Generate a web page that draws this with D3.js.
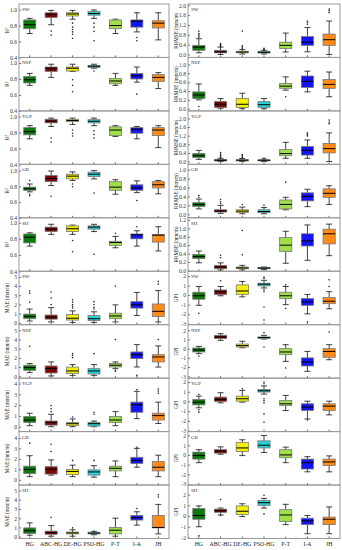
<!DOCTYPE html>
<html>
<head>
<meta charset="utf-8">
<script src="https://cdn.jsdelivr.net/npm/d3@7/dist/d3.min.js"></script>
<style>
  body { margin: 0; background: #fff; }
  svg { display: block; }
  text { font-family: "Liberation Serif", "DejaVu Serif", serif; }
</style>
</head>
<body>
<svg id="chart"></svg>
<script>
var categories = ["HG", "ABC-HG", "DE-HG", "PSO-HG", "P-T", "I-A", "JH"];
var colors = ["#0b7a0b", "#7a0606", "#f4f000", "#26d2d6", "#9fe04a", "#1414f0", "#ff8a17"];
var regions = ["SW", "NSP", "YGP", "GB", "SH"];

// each row: [low whisker, q1, median, q3, high whisker, outliers]
var r2SW = [
  [0.70, 0.76, 0.81, 0.87, 0.89, []],
  [0.81, 0.90, 0.94, 0.96, 0.99, [0.73, 0.68]],
  [0.88, 0.92, 0.945, 0.96, 0.99, [0.83, 0.78, 0.75, 0.72, 0.69, 0.64]],
  [0.89, 0.93, 0.95, 0.975, 0.995, [0.83, 0.78, 0.725, 0.61]],
  [0.70, 0.76, 0.80, 0.87, 0.88, []],
  [0.72, 0.78, 0.855, 0.87, 0.96, [0.65, 0.61]],
  [0.62, 0.77, 0.83, 0.86, 0.96, []]
];
var r2NSP = [
  [0.72, 0.75, 0.79, 0.83, 0.87, []],
  [0.82, 0.895, 0.935, 0.95, 0.985, []],
  [0.895, 0.90, 0.935, 0.95, 0.985, [0.79, 0.72, 0.64]],
  [0.935, 0.945, 0.96, 0.97, 0.985, [0.90]],
  [0.72, 0.74, 0.775, 0.805, 0.87, []],
  [0.76, 0.80, 0.84, 0.87, 0.95, [0.61]],
  [0.68, 0.77, 0.82, 0.855, 0.88, []]
];
var r2YGP = [
  [0.72, 0.77, 0.81, 0.86, 0.885, []],
  [0.875, 0.92, 0.94, 0.965, 0.98, [0.73, 0.68]],
  [0.90, 0.935, 0.95, 0.965, 0.98, [0.83, 0.79, 0.755]],
  [0.885, 0.92, 0.94, 0.96, 0.98, [0.82, 0.775, 0.73]],
  [0.75, 0.76, 0.83, 0.87, 0.885, []],
  [0.72, 0.79, 0.84, 0.86, 0.875, []],
  [0.61, 0.76, 0.83, 0.86, 0.885, []]
];
var r2GB = [
  [0.73, 0.75, 0.77, 0.79, 0.83, [0.875, 0.70, 0.68]],
  [0.81, 0.86, 0.90, 0.94, 0.995, [0.675]],
  [0.875, 0.895, 0.93, 0.955, 0.985, [0.83, 0.795]],
  [0.895, 0.925, 0.955, 0.98, 1.0, [0.715]],
  [0.70, 0.75, 0.79, 0.86, 0.885, []],
  [0.72, 0.75, 0.78, 0.82, 0.87, [0.62]],
  [0.705, 0.78, 0.82, 0.86, 0.875, []]
];
var r2SH = [
  [0.71, 0.75, 0.82, 0.86, 0.875, []],
  [0.855, 0.89, 0.92, 0.945, 0.98, []],
  [0.855, 0.89, 0.925, 0.96, 0.97, [0.78, 0.64]],
  [0.89, 0.92, 0.945, 0.96, 0.98, [0.61]],
  [0.69, 0.72, 0.755, 0.77, 0.83, [0.87]],
  [0.71, 0.80, 0.85, 0.86, 0.90, [0.95]],
  [0.65, 0.76, 0.845, 0.855, 0.95, []]
];
var maeSW = [
  [0.2, 0.45, 0.7, 0.95, 1.5, [2.25, 3.2, 3.45]],
  [0.1, 0.4, 0.6, 0.85, 1.65, [2.0, 2.7, 3.35]],
  [0.05, 0.3, 0.5, 0.9, 1.3, [1.6, 1.8, 2.0, 2.25, 2.5]],
  [0.05, 0.25, 0.45, 0.8, 1.2, [1.5, 1.7, 2.0, 2.3]],
  [0.1, 0.45, 0.75, 1.05, 1.95, [4.0]],
  [0.8, 1.6, 1.95, 2.3, 3.3, []],
  [0.1, 0.7, 1.25, 2.05, 3.5, [4.2, 4.5]]
];
var maeNSP = [
  [0.4, 0.65, 0.95, 1.2, 1.38, [3.26]],
  [0.04, 0.36, 0.85, 1.12, 1.56, []],
  [0.1, 0.3, 0.58, 1.0, 1.27, [2.03, 2.28, 2.46]],
  [0.1, 0.25, 0.58, 0.83, 1.27, [2.46]],
  [0.83, 1.01, 1.2, 1.38, 1.56, [4.0, 0.65, 0.55]],
  [1.01, 1.92, 2.35, 2.64, 3.44, [0.1]],
  [1.0, 1.56, 2.1, 2.35, 3.3, [4.0]]
];
var maeYGP = [
  [0.1, 0.4, 0.62, 0.94, 1.25, []],
  [0.0, 0.15, 0.4, 0.53, 1.15, [1.4, 1.66, 1.97]],
  [0.0, 0.1, 0.28, 0.4, 0.72, [0.9]],
  [0.0, 0.06, 0.28, 0.4, 0.53, [1.15, 1.34]],
  [0.1, 0.4, 0.62, 0.94, 1.4, []],
  [0.75, 1.34, 2.03, 2.28, 3.28, [3.44]],
  [0.3, 0.62, 1.03, 1.25, 2.28, [3.1, 3.3, 3.5]]
];
var maeGB = [
  [0.3, 0.6, 1.0, 1.3, 2.3, [3.5]],
  [0.45, 0.55, 1.0, 1.25, 1.9, [2.7, 3.4]],
  [0.3, 0.5, 0.8, 1.0, 1.4, [1.85]],
  [0.25, 0.45, 0.75, 0.95, 1.35, [1.85]],
  [0.3, 0.85, 1.1, 1.3, 1.8, []],
  [1.2, 1.55, 1.85, 2.15, 3.0, [3.1]],
  [0.3, 0.85, 1.2, 1.75, 2.35, []]
];
var maeSH = [
  [0.15, 0.35, 0.65, 0.95, 1.5, []],
  [0.05, 0.25, 0.45, 0.6, 1.2, [2.1]],
  [0.05, 0.3, 0.4, 0.5, 0.75, [0.95]],
  [0.2, 0.3, 0.38, 0.48, 0.55, [0.62]],
  [0.05, 0.3, 0.7, 1.0, 2.0, []],
  [1.25, 1.8, 2.05, 2.3, 2.7, [3.05]],
  [0.3, 0.95, 1.0, 2.3, 3.5, [4.3, 4.55]]
];
var rrmseSW = [
  [0.07, 0.17, 0.3, 0.37, 0.64, [0.7, 0.75, 0.8, 0.85, 0.94]],
  [0.0, 0.07, 0.1, 0.17, 0.3, [0.33, 0.36, 0.4, 0.44]],
  [0.02, 0.07, 0.1, 0.13, 0.2, [0.25, 0.3, 0.35, 0.95]],
  [0.02, 0.06, 0.09, 0.13, 0.17, [0.19, 0.22, 0.25]],
  [0.1, 0.24, 0.37, 0.5, 0.87, []],
  [0.11, 0.37, 0.5, 0.73, 1.1, [1.23, 1.3, 1.36]],
  [0.0, 0.37, 0.6, 0.83, 1.36, [1.7, 1.78, 1.85]]
];
var rrmseNSP = [
  [0.2, 0.23, 0.31, 0.38, 0.56, [0.05]],
  [0.01, 0.03, 0.1, 0.16, 0.23, []],
  [0.0, 0.03, 0.1, 0.23, 0.35, []],
  [0.0, 0.03, 0.09, 0.16, 0.23, []],
  [0.42, 0.46, 0.51, 0.57, 0.72, [0.27]],
  [0.38, 0.48, 0.62, 0.74, 0.85, []],
  [0.27, 0.46, 0.55, 0.66, 0.83, []]
];
var rrmseYGP = [
  [0.1, 0.18, 0.27, 0.37, 0.52, []],
  [0.0, 0.03, 0.06, 0.1, 0.15, [0.2, 0.25, 0.3, 0.35, 0.42]],
  [0.0, 0.03, 0.06, 0.09, 0.14, [0.18, 0.22, 0.28, 0.33]],
  [0.0, 0.03, 0.06, 0.08, 0.12, [0.16]],
  [0.15, 0.27, 0.37, 0.56, 0.89, []],
  [0.15, 0.3, 0.52, 0.7, 1.0, [1.19, 1.26, 1.33]],
  [0.0, 0.4, 0.6, 0.84, 1.33, [1.75, 1.82, 1.93]]
];
var rrmseGB = [
  [0.12, 0.17, 0.22, 0.26, 0.34, [0.38, 0.42]],
  [0.02, 0.05, 0.07, 0.1, 0.2, [0.24, 0.28, 0.33]],
  [0.01, 0.04, 0.07, 0.1, 0.16, [0.22]],
  [0.01, 0.04, 0.06, 0.1, 0.15, [0.2]],
  [0.1, 0.12, 0.22, 0.32, 0.38, [0.72]],
  [0.17, 0.3, 0.4, 0.48, 0.56, []],
  [0.22, 0.38, 0.47, 0.57, 0.64, []]
];
var rrmseSH = [
  [0.18, 0.28, 0.33, 0.38, 0.46, []],
  [0.01, 0.04, 0.08, 0.12, 0.18, [0.3, 0.36]],
  [0.01, 0.04, 0.06, 0.08, 0.12, [0.37, 0.95]],
  [0.02, 0.04, 0.055, 0.07, 0.08, []],
  [0.17, 0.45, 0.6, 0.78, 0.93, []],
  [0.24, 0.58, 0.7, 0.87, 1.08, []],
  [0.35, 0.63, 0.87, 0.98, 1.1, []]
];
var gpiSW = [
  [-1.07, -0.43, -0.07, 0.3, 0.9, [-1.9]],
  [-0.07, 0.07, 0.36, 0.54, 0.9, [1.5]],
  [-0.18, 0.07, 0.43, 1.07, 1.43, []],
  [0.75, 0.96, 1.14, 1.25, 1.55, [1.75, 1.9, 0.55, 0.35, -1.25, -2.6]],
  [-1.0, -0.36, -0.07, 0.3, 0.9, [1.07, -1.4]],
  [-1.96, -1.07, -0.71, -0.36, 0.07, [-2.8]],
  [-1.43, -0.9, -0.64, -0.25, 0.36, [0.9, 1.6]]
];
var gpiNSP = [
  [-0.54, -0.36, -0.15, 0.07, 0.25, [-0.8]],
  [0.9, 1.09, 1.27, 1.45, 1.63, []],
  [0.1, 0.18, 0.33, 0.5, 0.8, []],
  [1.05, 1.12, 1.2, 1.27, 1.45, [1.74, 0.18]],
  [-1.38, -0.65, -0.36, 0.0, 0.43, [-2.1]],
  [-2.46, -1.88, -1.45, -1.0, -0.3, []],
  [-1.2, -0.94, -0.3, 0.0, 0.43, [1.8]]
];
var gpiYGP = [
  [-0.65, -0.35, -0.07, 0.2, 0.55, [0.72, -0.86, -1.1]],
  [-0.14, 0.0, 0.2, 0.45, 0.9, []],
  [-0.07, 0.03, 0.28, 0.55, 1.14, [1.3]],
  [0.76, 0.97, 1.1, 1.24, 1.6, [2.0, 1.83, 0.28, 0.1, -0.14, -1.28, -2.14]],
  [-0.93, -0.41, -0.24, 0.1, 0.62, []],
  [-1.8, -0.93, -0.58, -0.24, 0.03, [-1.9]],
  [-1.38, -0.93, -0.48, -0.24, 0.03, []]
];
var gpiGB = [
  [-0.8, -0.43, -0.07, 0.29, 0.54, []],
  [0.07, 0.18, 0.4, 0.54, 0.83, []],
  [-0.07, 0.36, 0.72, 1.27, 1.56, []],
  [0.25, 0.72, 1.0, 1.45, 2.0, []],
  [-0.8, -0.29, 0.0, 0.54, 0.8, []],
  [-1.74, -1.45, -0.8, -0.43, -0.18, []],
  [-1.74, -1.09, -0.72, -0.43, -0.1, []]
];
var gpiSH = [
  [-1.0, -0.3, 0.05, 0.7, 0.95, [-1.85]],
  [0.1, 0.35, 0.5, 0.65, 0.75, [1.55, 0.05]],
  [-0.05, 0.15, 0.45, 0.95, 1.15, []],
  [0.75, 1.0, 1.25, 1.45, 1.65, [1.95, 0.2]],
  [-0.8, -0.5, 0.1, 0.6, 1.1, []],
  [-1.65, -0.8, -0.45, -0.2, 0.05, []],
  [-1.65, -0.8, -0.3, -0.1, 0.85, []]
];

var r2Ticks = [0.4, 0.6, 0.8, 1.0];
var maeTicks5 = [0, 1, 2, 3, 4, 5];
var maeTicks4 = [0, 1, 2, 3, 4];
var rrmseTicks2 = [0, 0.4, 0.8, 1.2, 1.6, 2.0];
var rrmseTicks1 = [0, 0.2, 0.4, 0.6, 0.8, 1.0];
var rrmseTicks12 = [0, 0.2, 0.4, 0.6, 0.8, 1.0, 1.2];
var gpiTicks3 = [-3, -2, -1, 0, 1, 2];
var gpiTicks2 = [-2, -1, 0, 1, 2];

var width = 342, height = 550;
var top0 = 4, panelH = 53.45;
var cols = [{x0: 19, x1: 169}, {x0: 188, x1: 340}];
var f1 = d3.format(".1f"), f0 = d3.format("d");
var fMinus = function(d) { return String(d); };

var panels = [
  {col: 0, row: 0, data: r2SW, name: "SW", title: "R\u00b2", ticks: r2Ticks, domain: [0.4, 1.07], fmt: f1},
  {col: 0, row: 1, data: r2NSP, name: "NSP", title: "R\u00b2", ticks: r2Ticks, domain: [0.4, 1.07], fmt: f1},
  {col: 0, row: 2, data: r2YGP, name: "YGP", title: "R\u00b2", ticks: r2Ticks, domain: [0.4, 1.07], fmt: f1},
  {col: 0, row: 3, data: r2GB, name: "GB", title: "R\u00b2", ticks: r2Ticks, domain: [0.4, 1.08], fmt: f1},
  {col: 0, row: 4, data: r2SH, name: "SH", title: "R\u00b2", ticks: r2Ticks, domain: [0.4, 1.06], fmt: f1},
  {col: 0, row: 5, data: maeSW, name: "SW", title: "MAE (mm/m)", ticks: maeTicks5, domain: [-0.2, 5.6], fmt: f0},
  {col: 0, row: 6, data: maeNSP, name: "NSP", title: "MAE (mm/m)", ticks: maeTicks5, domain: [-0.2, 5.6], fmt: f0},
  {col: 0, row: 7, data: maeYGP, name: "YGP", title: "MAE (mm/m)", ticks: maeTicks4, domain: [-0.45, 4.5], fmt: f0},
  {col: 0, row: 8, data: maeGB, name: "GB", title: "MAE (mm/m)", ticks: maeTicks4, domain: [-0.5, 4.6], fmt: f0},
  {col: 0, row: 9, data: maeSH, name: "SH", title: "MAE (mm/m)", ticks: maeTicks5, domain: [-0.2, 5.6], fmt: f0},
  {col: 1, row: 0, data: rrmseSW, name: "SW", title: "RRMSE (mm/m)", ticks: rrmseTicks2, domain: [-0.12, 2.05], fmt: f1},
  {col: 1, row: 1, data: rrmseNSP, name: "NSP", title: "RRMSE (mm/m)", ticks: rrmseTicks1, domain: [-0.05, 1.16], fmt: f1},
  {col: 1, row: 2, data: rrmseYGP, name: "YGP", title: "RRMSE (mm/m)", ticks: rrmseTicks2, domain: [-0.13, 2.35], fmt: f1},
  {col: 1, row: 3, data: rrmseGB, name: "GB", title: "RRMSE (mm/m)", ticks: rrmseTicks1, domain: [-0.08, 1.12], fmt: f1},
  {col: 1, row: 4, data: rrmseSH, name: "SH", title: "RRMSE (mm/m)", ticks: rrmseTicks12, domain: [-0.02, 1.25], fmt: f1},
  {col: 1, row: 5, data: gpiSW, name: "SW", title: "GPI", ticks: gpiTicks3, domain: [-3.1, 2.5], fmt: fMinus},
  {col: 1, row: 6, data: gpiNSP, name: "NSP", title: "GPI", ticks: gpiTicks3, domain: [-3.2, 2.6], fmt: fMinus},
  {col: 1, row: 7, data: gpiYGP, name: "YGP", title: "GPI", ticks: gpiTicks3, domain: [-3.1, 2.4], fmt: fMinus},
  {col: 1, row: 8, data: gpiGB, name: "GB", title: "GPI", ticks: gpiTicks3, domain: [-3.1, 2.4], fmt: fMinus},
  {col: 1, row: 9, data: gpiSH, name: "SH", title: "GPI", ticks: gpiTicks2, domain: [-2.1, 2.9], fmt: fMinus}
];

var svg = d3.select("#chart").attr("width", width).attr("height", height);

panels.forEach(function(p) {
  var c = cols[p.col];
  var y0 = top0 + p.row * panelH, y1 = y0 + panelH;
  var x = d3.scaleBand().domain(categories).range([c.x0, c.x1]).paddingInner(0.44).paddingOuter(0.22);
  var y = d3.scaleLinear().domain(p.domain).range([y1, y0]);
  var g = svg.append("g");
  var bw = x.bandwidth();

  // y axis
  var ya = g.append("g").attr("transform", "translate(" + c.x0 + ",0)")
    .call(d3.axisLeft(y).tickValues(p.ticks).tickSize(-2).tickPadding(2).tickFormat(p.fmt));
  ya.select(".domain").remove();
  ya.selectAll("line").attr("stroke", "#666");
  ya.selectAll("text").attr("font-size", "5.6px").attr("fill", "#333")
    .style("font-family", "'Liberation Serif', serif");

  // x axis ticks
  var xa = g.append("g").attr("transform", "translate(0," + y1 + ")")
    .call(d3.axisBottom(x).tickSize(-2).tickPadding(3).tickFormat(p.row === 9 ? null : ""));
  xa.select(".domain").remove();
  xa.selectAll("line").attr("stroke", "#666");
  xa.selectAll("text").attr("font-size", "5.8px").attr("fill", "#222")
    .style("font-family", "'Liberation Serif', serif");

  // boxes
  p.data.forEach(function(d, i) {
    var cx = x(categories[i]) + bw / 2;
    var cap = bw * 0.5;
    g.append("line").attr("x1", cx).attr("x2", cx).attr("y1", y(d[4])).attr("y2", y(d[3]))
      .attr("stroke", "#111").attr("stroke-width", 0.8);
    g.append("line").attr("x1", cx).attr("x2", cx).attr("y1", y(d[1])).attr("y2", y(d[0]))
      .attr("stroke", "#111").attr("stroke-width", 0.8);
    g.append("line").attr("x1", cx - cap / 2).attr("x2", cx + cap / 2).attr("y1", y(d[4])).attr("y2", y(d[4]))
      .attr("stroke", "#111").attr("stroke-width", 0.8);
    g.append("line").attr("x1", cx - cap / 2).attr("x2", cx + cap / 2).attr("y1", y(d[0])).attr("y2", y(d[0]))
      .attr("stroke", "#111").attr("stroke-width", 0.8);
    g.append("rect")
      .attr("x", cx - bw / 2).attr("y", y(d[3]))
      .attr("width", bw).attr("height", Math.max(1, y(d[1]) - y(d[3])))
      .attr("fill", colors[i]).attr("stroke", "#777").attr("stroke-width", 0.8);
    g.append("line").attr("x1", cx - bw / 2).attr("x2", cx + bw / 2).attr("y1", y(d[2])).attr("y2", y(d[2]))
      .attr("stroke", "#000").attr("stroke-width", 1);
    d[5].forEach(function(o) {
      g.append("circle").attr("cx", cx).attr("cy", y(o)).attr("r", 0.8).attr("fill", "#222");
    });
  });

  // frame
  g.append("rect").attr("x", c.x0).attr("y", y0).attr("width", c.x1 - c.x0).attr("height", panelH)
    .attr("fill", "none").attr("stroke", "#999").attr("stroke-width", 1);

  g.append("text").attr("x", c.x0 + 3).attr("y", y0 + 7).attr("font-size", "5px").attr("fill", "#333")
    .text(p.name);

  g.append("text")
    .attr("transform", "translate(" + (c.x0 - 10.5) + "," + (y0 + panelH / 2) + ") rotate(-90)")
    .attr("text-anchor", "middle").attr("font-size", "5.2px").attr("fill", "#222")
    .text(p.title);
});
</script>
</body>
</html>
